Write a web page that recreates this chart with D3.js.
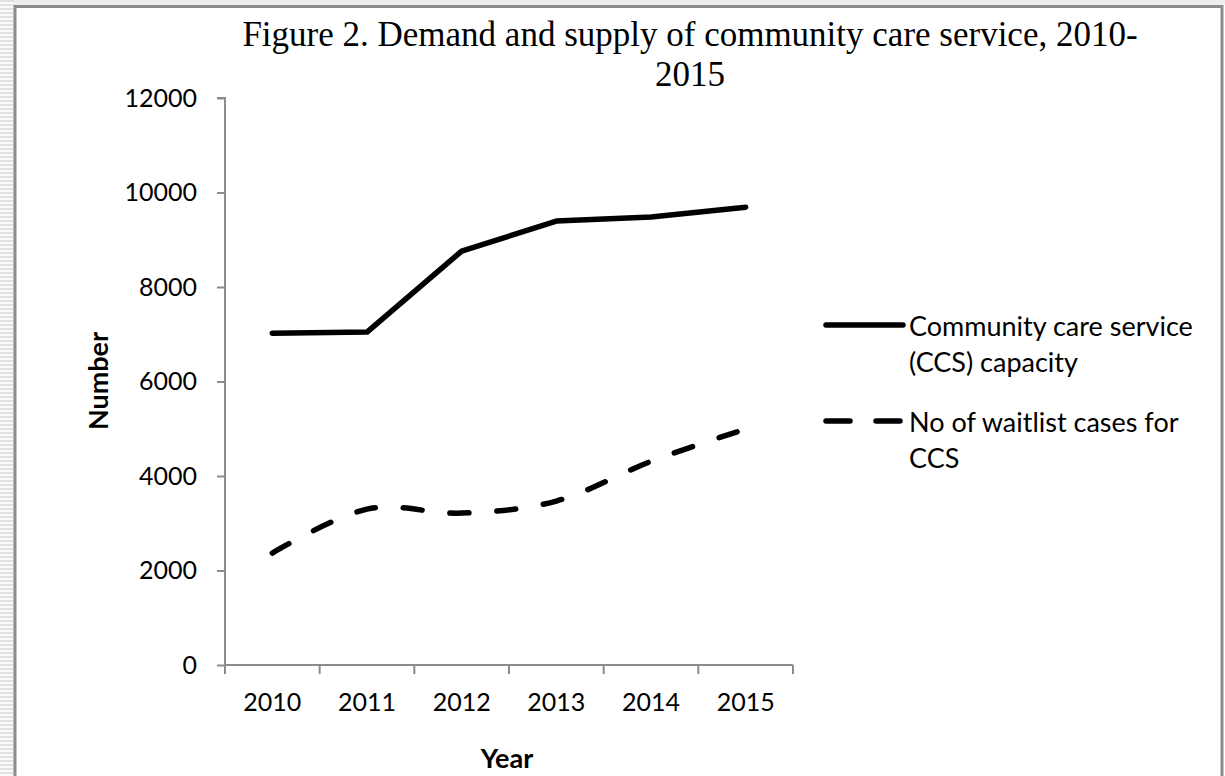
<!DOCTYPE html>
<html><head><meta charset="utf-8">
<script src="https://cdn.jsdelivr.net/npm/d3@7"></script>
<style>html,body{margin:0;padding:0;background:#fff;overflow:hidden}</style>
</head><body>
<svg id="c" width="1225" height="776"></svg>
<script>
const years = ["2010","2011","2012","2013","2014","2015"];
const ccsCapacity = [7020, 7045, 8760, 9395, 9480, 9690];
const waitlistCases = [2370, 3300, 3215, 3470, 4310, 4995];
const yTicks = [0, 2000, 4000, 6000, 8000, 10000, 12000];
const seriesNames = ["Community care service|(CCS) capacity", "No of waitlist cases for|CCS"];
const titleLines = ["Figure 2. Demand and supply of community care service, 2010-", "2015"];

const svg = d3.select("#c");
const W = 1225, H = 776;
const m = {left:225, right:793, top:98, bottom:665};
const sans = "Lato, 'Open Sans', sans-serif";

// background stripes at left edge
const defs = svg.append("defs");
const pat = defs.append("pattern").attr("id","stripes").attr("patternUnits","userSpaceOnUse")
  .attr("width",14).attr("height",4);
pat.append("rect").attr("width",14).attr("height",4).attr("fill","#fafafa");
pat.append("rect").attr("width",14).attr("height",2).attr("fill","#e2e2e2");
svg.append("rect").attr("x",0).attr("y",0).attr("width",14).attr("height",H).attr("fill","url(#stripes)");
svg.append("rect").attr("x",14).attr("y",0).attr("width",W-14).attr("height",5).attr("fill","#eeeeee");
svg.append("rect").attr("x",15).attr("y",6.5).attr("width",1207).attr("height",H+20)
  .attr("fill","#fff").attr("stroke","#8c8c8c").attr("stroke-width",3);

const x = d3.scaleBand().domain(years).range([m.left, m.right]).paddingInner(0).paddingOuter(0);
const y = d3.scaleLinear().domain([0, 12000]).range([m.bottom, m.top]);
const cx = d => x(d) + x.bandwidth()/2;

// title
svg.append("g").selectAll("text").data(titleLines).join("text")
  .attr("x", 690).attr("y",(d,i)=> 46 + i*40)
  .attr("text-anchor","middle")
  .attr("font-family","'Liberation Serif', 'Times New Roman', serif")
  .attr("font-size",35).attr("fill","#000").text(d=>d);

// y axis
const ya = svg.append("g").attr("transform",`translate(${m.left},0)`)
  .call(d3.axisLeft(y).tickValues(yTicks).tickSize(8).tickPadding(20).tickFormat(d3.format("d")));
ya.select(".domain").attr("stroke","#8c8c8c").attr("stroke-width",2).attr("d",`M-8,${m.top}H0V${m.bottom}`);
ya.selectAll(".tick line").attr("stroke","#8c8c8c").attr("stroke-width",2);
ya.selectAll(".tick text").attr("font-family",sans).attr("font-size",25).attr("fill","#000");

// x axis
const xa = svg.append("g").attr("transform",`translate(0,${m.bottom})`)
  .call(d3.axisBottom(x).tickSize(0).tickPadding(28));
xa.select(".domain").attr("stroke","#8c8c8c").attr("stroke-width",2).attr("d",`M${m.left},0H${m.right}`);
xa.selectAll(".tick text").attr("font-family",sans).attr("font-size",25).attr("fill","#000");
const bounds = years.map(d=>x(d)).concat([x(years[years.length-1]) + x.bandwidth()]);
xa.selectAll(".bound").data(bounds).join("line").attr("class","bound")
  .attr("x1",d=>d).attr("x2",d=>d).attr("y1",0).attr("y2",9)
  .attr("stroke","#8c8c8c").attr("stroke-width",2);

// axis titles
svg.append("text").attr("transform","translate(108,381) rotate(-90)")
  .attr("text-anchor","middle").attr("font-family",sans).attr("font-weight","bold")
  .attr("font-size",27).text("Number");
svg.append("text").attr("x",507).attr("y",768)
  .attr("text-anchor","middle").attr("font-family",sans).attr("font-weight","bold")
  .attr("font-size",27).text("Year");

// lines
const solidLine = d3.line().x((d,i)=>cx(years[i])).y(d=>y(d));
const smoothLine = d3.line().x((d,i)=>cx(years[i])).y(d=>y(d)).curve(d3.curveCardinal.tension(0));
svg.append("path").datum(ccsCapacity).attr("d",solidLine).attr("fill","none")
  .attr("stroke","#000").attr("stroke-width",5.5).attr("stroke-linecap","round").attr("stroke-linejoin","round");
svg.append("path").datum(waitlistCases).attr("d",smoothLine).attr("fill","none")
  .attr("stroke","#000").attr("stroke-width",5.5).attr("stroke-linecap","round")
  .attr("stroke-dasharray","19,28");

// legend
const lg = svg.append("g");
const legY = [325, 421];
lg.append("line").attr("x1",826).attr("x2",903).attr("y1",legY[0]).attr("y2",legY[0])
  .attr("stroke","#000").attr("stroke-width",5.5).attr("stroke-linecap","round");
lg.append("line").attr("x1",826).attr("x2",903).attr("y1",legY[1]).attr("y2",legY[1])
  .attr("stroke","#000").attr("stroke-width",5.5).attr("stroke-linecap","round").attr("stroke-dasharray","24,26");
seriesNames.forEach((s,i)=>{
  const t = lg.append("text").attr("font-family",sans).attr("font-size",27).attr("fill","#000");
  s.split("|").forEach((ln,j)=>{
    t.append("tspan").attr("x",909).attr("y",legY[i]+11+j*36).text(ln);
  });
});
</script>
</body></html>
